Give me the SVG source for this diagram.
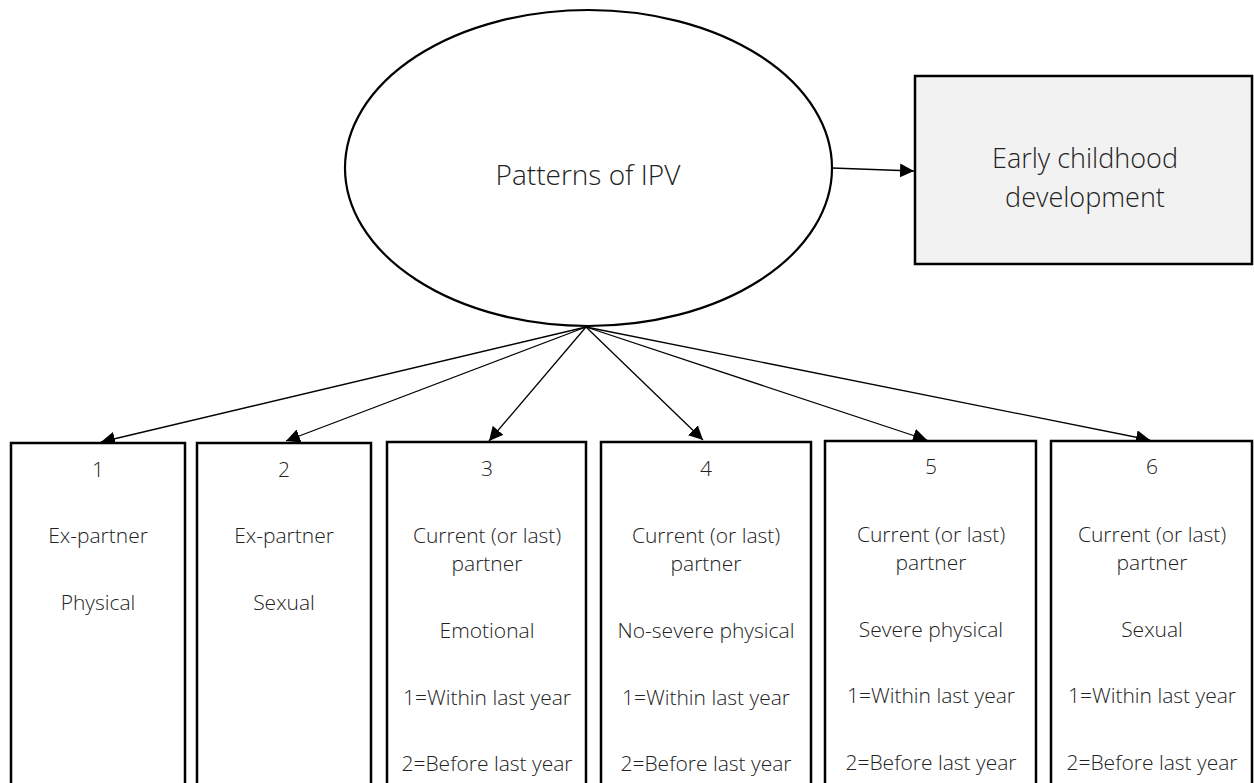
<svg xmlns="http://www.w3.org/2000/svg" width="1254" height="783" viewBox="0 0 1254 783">
<style>
text{font-family:"Open Sans","Noto Sans","Liberation Sans",sans-serif;font-weight:300;fill:#222;text-anchor:middle}
.box{fill:#fff;stroke:#000;stroke-width:2.5}
.lbl{font-size:21px}
.con{stroke:#000;stroke-width:1.3;fill:none;marker-end:url(#ah)}
</style>
<defs>
<marker id="ah" viewBox="0 0 10 10" refX="10" refY="5" markerWidth="14" markerHeight="14" markerUnits="userSpaceOnUse" orient="auto">
<path d="M0,0 L10,5 L0,10 z" fill="#000"/>
</marker>
</defs>
<rect width="1254" height="783" fill="#fff"/>
<g id="ipv">
<ellipse cx="588.5" cy="168" rx="243.5" ry="158" fill="#fff" stroke="#000" stroke-width="2.2"/>
<text x="588" y="185" font-size="28">Patterns of IPV</text>
</g>
<g id="ecd">
<rect x="915" y="76" width="337" height="188" fill="#f2f2f2" stroke="#000" stroke-width="2.5"/>
<text x="1085" y="168" font-size="27">Early childhood</text>
<text x="1085" y="207" font-size="27">development</text>
</g>
<g id="connectors">
<line class="con" x1="832" y1="168" x2="914" y2="171"/>
<line class="con" x1="586" y1="327" x2="101" y2="442"/>
<line class="con" x1="586" y1="327" x2="286" y2="441"/>
<line class="con" x1="586" y1="327" x2="489" y2="441"/>
<line class="con" x1="586" y1="327" x2="703" y2="440"/>
<line class="con" x1="586" y1="327" x2="927" y2="440"/>
<line class="con" x1="586" y1="327" x2="1150" y2="440"/>
</g>
<g id="n1">
<rect class="box" x="11" y="443" width="174" height="360"/>
<text class="lbl" x="98" y="477">1</text>
<text class="lbl" x="98" y="543">Ex-partner</text>
<text class="lbl" x="98" y="610">Physical</text>
</g>
<g id="n2">
<rect class="box" x="197" y="443" width="174" height="360"/>
<text class="lbl" x="284" y="477">2</text>
<text class="lbl" x="284" y="543">Ex-partner</text>
<text class="lbl" x="284" y="610">Sexual</text>
</g>
<g id="n3">
<rect class="box" x="387" y="442" width="199" height="360"/>
<text class="lbl" x="487" y="476">3</text>
<text class="lbl" x="487" y="543">Current (or last)</text>
<text class="lbl" x="487" y="571">partner</text>
<text class="lbl" x="487" y="638">Emotional</text>
<text class="lbl" x="487" y="705">1=Within last year</text>
<text class="lbl" x="487" y="771">2=Before last year</text>
</g>
<g id="n4">
<rect class="box" x="601" y="442" width="210" height="360"/>
<text class="lbl" x="706" y="476">4</text>
<text class="lbl" x="706" y="543">Current (or last)</text>
<text class="lbl" x="706" y="571">partner</text>
<text class="lbl" x="706" y="638">No-severe physical</text>
<text class="lbl" x="706" y="705">1=Within last year</text>
<text class="lbl" x="706" y="771">2=Before last year</text>
</g>
<g id="n5">
<rect class="box" x="825" y="441" width="211" height="360"/>
<text class="lbl" x="931" y="474">5</text>
<text class="lbl" x="931" y="542">Current (or last)</text>
<text class="lbl" x="931" y="570">partner</text>
<text class="lbl" x="931" y="637">Severe physical</text>
<text class="lbl" x="931" y="703">1=Within last year</text>
<text class="lbl" x="931" y="770">2=Before last year</text>
</g>
<g id="n6">
<rect class="box" x="1051" y="441" width="201" height="360"/>
<text class="lbl" x="1152" y="474">6</text>
<text class="lbl" x="1152" y="542">Current (or last)</text>
<text class="lbl" x="1152" y="570">partner</text>
<text class="lbl" x="1152" y="637">Sexual</text>
<text class="lbl" x="1152" y="703">1=Within last year</text>
<text class="lbl" x="1152" y="770">2=Before last year</text>
</g>
</svg>
